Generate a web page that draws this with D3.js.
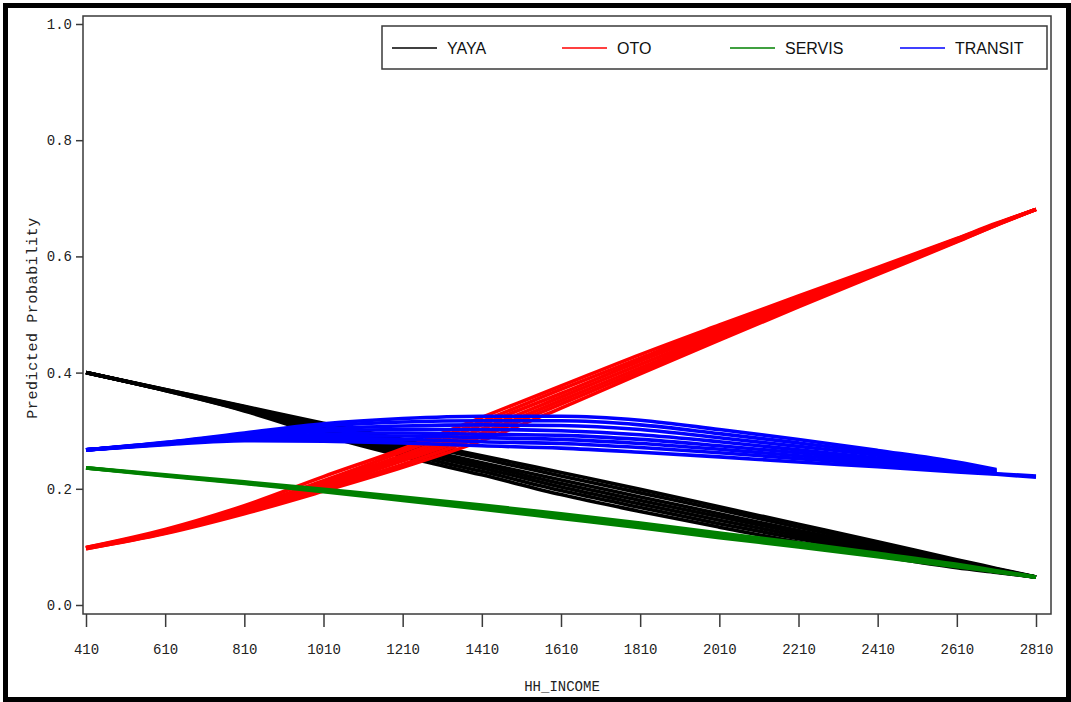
<!DOCTYPE html>
<html>
<head>
<meta charset="utf-8">
<script src="https://cdn.jsdelivr.net/npm/d3@7"></script>
<style>
  body { margin: 0; background: #fff; }
  svg { display: block; }
</style>
</head>
<body>
<script>
const incomes = [410, 610, 810, 1010, 1210, 1410, 1610, 1810, 2010, 2210, 2410, 2610, 2710, 2810];
const xTicks = [410, 610, 810, 1010, 1210, 1410, 1610, 1810, 2010, 2210, 2410, 2610, 2810];
const yTicks = [0, 0.2, 0.4, 0.6, 0.8, 1.0];
const categories = ["YAYA", "OTO", "SERVIS", "TRANSIT"];

// predicted probability curves, one array per covariate profile
const yayaLines = [
    [0.400, 0.371, 0.342, 0.313, 0.285, 0.257, 0.228, 0.199, 0.169, 0.139, 0.109, 0.078, 0.063, 0.048],
    [0.400, 0.371, 0.341, 0.310, 0.281, 0.252, 0.222, 0.193, 0.164, 0.134, 0.105, 0.076, 0.062, 0.048],
    [0.400, 0.370, 0.339, 0.306, 0.275, 0.245, 0.215, 0.186, 0.157, 0.128, 0.101, 0.073, 0.061, 0.048],
    [0.400, 0.370, 0.338, 0.303, 0.271, 0.241, 0.209, 0.180, 0.152, 0.124, 0.097, 0.071, 0.060, 0.048],
    [0.400, 0.370, 0.337, 0.299, 0.266, 0.236, 0.203, 0.174, 0.146, 0.119, 0.093, 0.069, 0.058, 0.048],
    [0.400, 0.369, 0.335, 0.296, 0.261, 0.230, 0.197, 0.168, 0.140, 0.114, 0.089, 0.067, 0.057, 0.048],
    [0.400, 0.369, 0.334, 0.292, 0.256, 0.224, 0.190, 0.161, 0.134, 0.108, 0.085, 0.064, 0.056, 0.048]
];
const otoLines = [
    [0.099, 0.130, 0.171, 0.221, 0.269, 0.323, 0.377, 0.431, 0.482, 0.532, 0.581, 0.631, 0.657, 0.681],
    [0.099, 0.128, 0.167, 0.214, 0.264, 0.316, 0.371, 0.425, 0.478, 0.528, 0.579, 0.630, 0.656, 0.681],
    [0.098, 0.127, 0.165, 0.211, 0.258, 0.310, 0.364, 0.420, 0.473, 0.525, 0.577, 0.629, 0.656, 0.681],
    [0.098, 0.126, 0.163, 0.207, 0.253, 0.303, 0.358, 0.414, 0.469, 0.522, 0.575, 0.628, 0.655, 0.681],
    [0.098, 0.125, 0.161, 0.203, 0.248, 0.296, 0.352, 0.408, 0.465, 0.519, 0.573, 0.627, 0.655, 0.681],
    [0.097, 0.124, 0.159, 0.200, 0.242, 0.290, 0.346, 0.403, 0.460, 0.516, 0.571, 0.626, 0.654, 0.681],
    [0.097, 0.123, 0.157, 0.196, 0.237, 0.283, 0.339, 0.398, 0.456, 0.513, 0.569, 0.625, 0.654, 0.681]
];
const servisLines = [
    [0.236, 0.224, 0.212, 0.199, 0.186, 0.172, 0.157, 0.141, 0.124, 0.107, 0.089, 0.070, 0.059, 0.048],
    [0.236, 0.223, 0.210, 0.197, 0.183, 0.168, 0.153, 0.137, 0.120, 0.103, 0.086, 0.068, 0.058, 0.048],
    [0.236, 0.222, 0.209, 0.195, 0.180, 0.165, 0.149, 0.133, 0.116, 0.100, 0.083, 0.066, 0.057, 0.048]
];
const transitLines = [
    [0.267, 0.280, 0.296, 0.312, 0.321, 0.325, 0.325, 0.318, 0.302, 0.285, 0.266, 0.246, 0.233, null],
    [0.267, 0.279, 0.294, 0.308, 0.315, 0.317, 0.317, 0.310, 0.295, 0.279, 0.262, 0.243, 0.232, null],
    [0.267, 0.279, 0.292, 0.303, 0.308, 0.310, 0.309, 0.302, 0.288, 0.273, 0.258, 0.241, 0.231, null],
    [0.267, 0.278, 0.290, 0.299, 0.302, 0.302, 0.300, 0.293, 0.281, 0.267, 0.253, 0.238, 0.229, null],
    [0.267, 0.278, 0.288, 0.294, 0.296, 0.294, 0.292, 0.285, 0.274, 0.262, 0.249, 0.236, 0.228, null],
    [0.267, 0.277, 0.287, 0.290, 0.291, 0.288, 0.285, 0.278, 0.268, 0.257, 0.246, 0.234, 0.227, null],
    [0.267, 0.277, 0.285, 0.286, 0.285, 0.281, 0.278, 0.271, 0.262, 0.252, 0.242, 0.231, 0.226, 0.222],
    [0.267, 0.276, 0.283, 0.282, 0.279, 0.274, 0.270, 0.263, 0.255, 0.246, 0.238, 0.229, 0.225, 0.220]
];

const colors = { YAYA: "#000000", OTO: "#ff0000", SERVIS: "#008000", TRANSIT: "#0000ff" };
const linesByCat = { YAYA: yayaLines, OTO: otoLines, SERVIS: servisLines, TRANSIT: transitLines };

function render() {
    const W = 1071, H = 702;
    const plot = { left: 83, top: 16, right: 1051, bottom: 614 };

    const svg = d3.select("body").append("svg")
        .attr("width", W)
        .attr("height", H);

    svg.append("rect")
        .attr("width", W).attr("height", H)
        .attr("fill", "#fff");

    const x = d3.scaleLinear()
        .domain([410, 2810])
        .range([86, 1036]);
    const y = d3.scaleLinear()
        .domain([0, 1])
        .range([605, 24]);

    // curves, drawn in category order so TRANSIT ends up on top
    const line = d3.line()
        .defined(d => d[1] != null)
        .x(d => x(d[0]))
        .y(d => y(d[1]))
        .curve(d3.curveMonotoneX);

    const curves = svg.append("g");
    categories.forEach(cat => {
        curves.append("g")
            .selectAll("path")
            .data(linesByCat[cat])
            .enter()
            .append("path")
            .attr("fill", "none")
            .attr("stroke", colors[cat])
            .attr("stroke-width", 3.6)
            .attr("d", vals => line(vals.map((v, i) => [incomes[i], v])));
    });

    // plot frame
    svg.append("rect")
        .attr("x", plot.left).attr("y", plot.top)
        .attr("width", plot.right - plot.left)
        .attr("height", plot.bottom - plot.top)
        .attr("fill", "none")
        .attr("stroke", "#3a3a3a")
        .attr("stroke-width", 1.5);

    const mono = "'Liberation Mono', 'DejaVu Sans Mono', monospace";

    const xAxis = svg.append("g")
        .attr("transform", `translate(0,${plot.bottom})`)
        .call(d3.axisBottom(x).tickValues(xTicks).tickSize(13).tickPadding(17).tickFormat(d3.format("d")));
    xAxis.select(".domain").remove();
    xAxis.selectAll("line").attr("stroke", "#3a3a3a").attr("stroke-width", 1.5);
    xAxis.selectAll("text")
        .attr("fill", "#222")
        .style("font-family", mono)
        .style("font-size", "14px");

    const yAxis = svg.append("g")
        .attr("transform", `translate(${plot.left},0)`)
        .call(d3.axisLeft(y).tickValues(yTicks).tickSize(7).tickPadding(4).tickFormat(d3.format(".1f")));
    yAxis.select(".domain").remove();
    yAxis.selectAll("line").attr("stroke", "#3a3a3a").attr("stroke-width", 1.5);
    yAxis.selectAll("text")
        .attr("fill", "#222")
        .style("font-family", mono)
        .style("font-size", "14px");

    svg.append("text")
        .attr("x", 562)
        .attr("y", 691)
        .attr("text-anchor", "middle")
        .attr("fill", "#222")
        .style("font-family", mono)
        .style("font-size", "14px")
        .text("HH_INCOME");

    svg.append("text")
        .attr("transform", "translate(37,318) rotate(-90)")
        .attr("text-anchor", "middle")
        .attr("fill", "#222")
        .style("font-family", mono)
        .style("font-size", "15px")
        .style("letter-spacing", "0.6px")
        .text("Predicted Probability");

    // legend
    const legend = svg.append("g");
    legend.append("rect")
        .attr("x", 382).attr("y", 26)
        .attr("width", 665).attr("height", 43)
        .attr("fill", "#fff")
        .attr("stroke", "#3a3a3a")
        .attr("stroke-width", 1.5);
    const legendX = [392, 562, 730, 900];
    const item = legend.selectAll("g.item")
        .data(categories)
        .enter()
        .append("g")
        .attr("class", "item")
        .attr("transform", (d, i) => `translate(${legendX[i]},48)`);
    item.append("line")
        .attr("x1", 0).attr("x2", 45)
        .attr("stroke", d => colors[d])
        .attr("stroke-width", 1.5);
    item.append("text")
        .attr("x", 55)
        .attr("dy", "0.36em")
        .attr("fill", "#111")
        .style("font-family", "'Liberation Sans', Arial, sans-serif")
        .style("font-size", "16px")
        .text(d => d);

    // outer black border
    svg.append("rect")
        .attr("x", 5.5).attr("y", 5.5)
        .attr("width", 1063).attr("height", 694)
        .attr("fill", "none")
        .attr("stroke", "#000")
        .attr("stroke-width", 5);
}

render();
</script>
</body>
</html>
